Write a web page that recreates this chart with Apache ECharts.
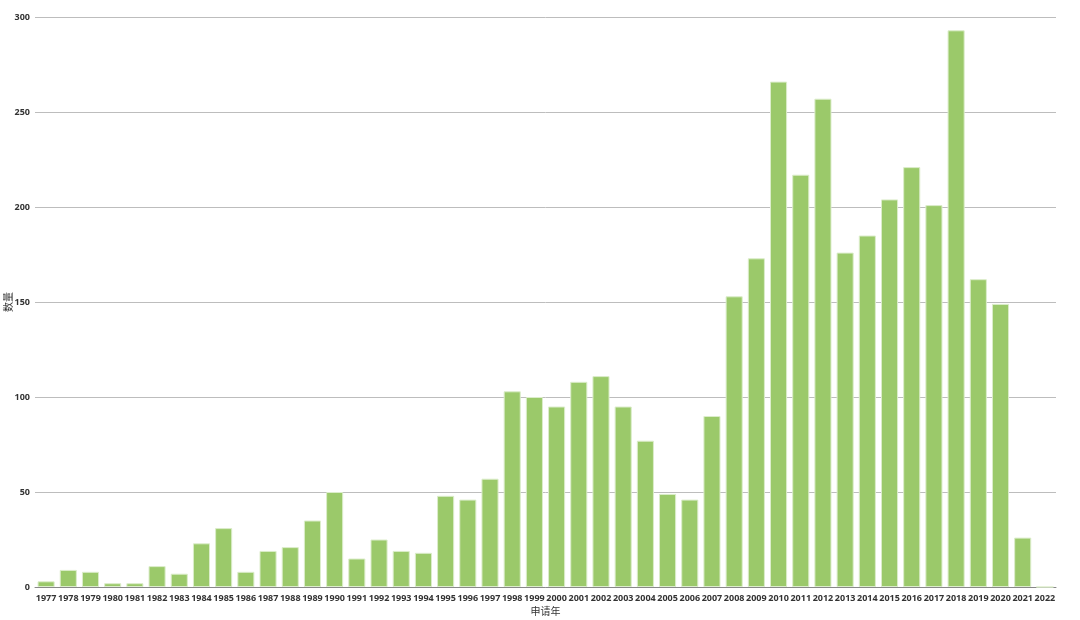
<!DOCTYPE html>
<html><head><meta charset="utf-8">
<script src="https://cdn.jsdelivr.net/npm/echarts@6/dist/echarts.min.js"></script>
<style>html,body{margin:0;padding:0;background:#fff}#c{width:1080px;height:620px}</style>
</head><body><div id="c"></div>
<script>
const years = ['1977','1978','1979','1980','1981','1982','1983','1984','1985','1986','1987','1988','1989','1990','1991','1992','1993','1994','1995','1996','1997','1998','1999','2000','2001','2002','2003','2004','2005','2006','2007','2008','2009','2010','2011','2012','2013','2014','2015','2016','2017','2018','2019','2020','2021','2022'];
const counts = [3,9,8,2,2,11,7,23,31,8,19,21,35,50,15,25,19,18,48,46,57,103,100,95,108,111,95,77,49,46,90,153,173,266,217,257,176,185,204,221,201,293,162,149,26,0];
const yTicks = {min:0, max:300, interval:50};
const chart = echarts.init(document.getElementById('c'), null, {renderer:'canvas'});
const font = '"Open Sans","Noto Sans CJK SC",sans-serif';
chart.setOption({
  animation:false,
  grid:{left:35,right:24,top:17,bottom:33,containLabel:false,outerBoundsMode:'none'},
  xAxis:{type:'category',data:years,name:'申请年',nameLocation:'middle',nameGap:20,nameMoveOverlap:false,
    nameTextStyle:{fontSize:10,color:'#333',fontFamily:font},
    axisLine:{lineStyle:{color:'#888'}},axisTick:{lineStyle:{color:'#888'},length:4},
    axisLabel:{fontSize:9,color:'#333',fontWeight:'bold',fontFamily:font,interval:0,margin:7}},
  yAxis:{type:'value',min:yTicks.min,max:yTicks.max,interval:yTicks.interval,name:'数量',nameLocation:'middle',nameGap:21,nameRotate:90,nameMoveOverlap:false,
    nameTextStyle:{fontSize:10,color:'#333',fontFamily:font},
    axisLine:{show:false},axisTick:{show:false},
    splitLine:{lineStyle:{color:'#bdbdbd'}},
    axisLabel:{fontSize:9,color:'#333',fontWeight:'bold',fontFamily:font,margin:5}},
  series:[{type:'bar',data:counts,barCategoryGap:'23%',
    itemStyle:{color:'#9bc96a',borderColor:'#dcedcb',borderWidth:1}}]
});
</script></body></html>
